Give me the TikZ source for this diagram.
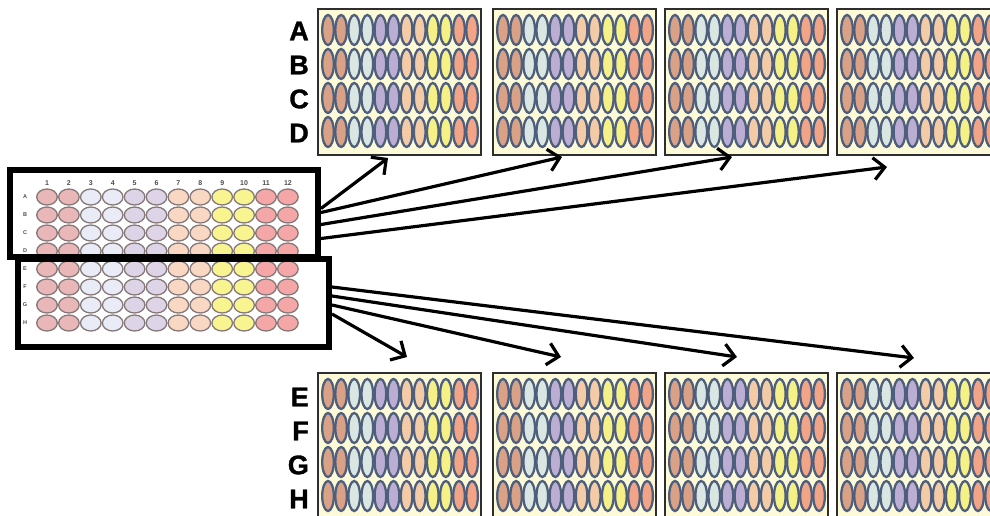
\documentclass[tikz,border=0pt]{standalone}
\usepackage{fontspec}
\setmainfont{Liberation Sans}[BoldFont={Liberation Sans Bold}]
\newfontfamily\labelfont{Liberation Sans Bold}[FakeBold=1.2]
\usetikzlibrary{arrows.meta,calc}

% well colours of the source plate (one per column pair)
\definecolor{sw1}{HTML}{E9B7B7}
\definecolor{sw2}{HTML}{E9ECF6}
\definecolor{sw3}{HTML}{DDD4E7}
\definecolor{sw4}{HTML}{F8D7C3}
\definecolor{sw5}{HTML}{F8F590}
\definecolor{sw6}{HTML}{F5A7A7}
\definecolor{swline}{HTML}{857878}
% well colours of the destination plates
\definecolor{dw1}{HTML}{D9A286}
\definecolor{dw2}{HTML}{DAE6E2}
\definecolor{dw3}{HTML}{BCAED3}
\definecolor{dw4}{HTML}{F3CBA6}
\definecolor{dw5}{HTML}{F5F187}
\definecolor{dw6}{HTML}{F2A487}
\definecolor{dwline}{HTML}{4E5F7E}
\definecolor{cream}{HTML}{FDFAD8}
\definecolor{plateframe}{HTML}{2E2E2E}

\tikzset{
  plate/.style={draw=plateframe, line width=1.8pt, fill=cream,
    minimum width=163pt, minimum height=146pt, inner sep=0pt, anchor=north west},
  selbox/.style={draw=black, line width=6pt, inner sep=0pt},
  rowlab/.style={font=\labelfont\fontsize{27}{27}\selectfont, inner sep=0pt, anchor=east},
  collab/.style={font=\bfseries\fontsize{7}{7}\selectfont, text=black!70, inner sep=0pt},
  smallrow/.style={font=\bfseries\fontsize{5.5}{5.5}\selectfont, text=black!70, inner sep=0pt},
  arr/.style={line width=3.2pt, -{Straight Barb[length=11pt,width=22pt]}},
  srcwell/.style={draw=swline, line width=1.3pt},
  dstwell/.style={draw=dwline, line width=2.3pt}
}

\begin{document}
\begin{tikzpicture}[x=1pt,y=-1pt]
\useasboundingbox (0,0) rectangle (990,516);
\clip (0,0) rectangle (990,516);
\fill[white] (0,0) rectangle (990,516);

% ---- source 96-well plate ----
\foreach \c in {1,...,12} {
  \node[collab] (col\c) at ({47+(\c-1)*21.9},183) {\c};
  \pgfmathtruncatemacro\g{(\c+1)/2}
  \foreach \r in {1,...,8} {
    \draw[srcwell, fill=sw\g] ({47+(\c-1)*21.9},{197+(\r-1)*18}) ellipse (10.3 and 8);
  }
}
\foreach \l [count=\r] in {A,B,C,D,E,F,G,H} {
  \node[smallrow] (srow\l) at (25,{197+(\r-1)*18}) {\l};
}

% ---- selection frames on the source plate ----
\node[selbox, minimum width=311pt, minimum height=88pt] (selB) at (173.5,303) {};
\node[selbox, minimum width=308pt, minimum height=87pt] (selA) at (164,213.5) {};

% ---- destination plates, rows A-D (top) and E-H (bottom) ----
\foreach \px/\nm in {317/tp1, 492/tp2, 664/tp3, 836/tp4} {
  \node[plate] (\nm) at (\px,8) {};
  \foreach \c in {1,...,12} {
    \pgfmathtruncatemacro\g{(\c+1)/2}
    \foreach \r in {1,...,4} {
      \draw[dstwell, fill=dw\g] ({\px+11+(\c-1)*13.1},{30+(\r-1)*34}) ellipse (5.8 and 15);
    }
  }
}
\foreach \px/\nm in {317/bp1, 492/bp2, 664/bp3, 836/bp4} {
  \node[plate] (\nm) at (\px,372) {};
  \foreach \c in {1,...,12} {
    \pgfmathtruncatemacro\g{(\c+1)/2}
    \foreach \r in {1,...,4} {
      \draw[dstwell, fill=dw\g] ({\px+11+(\c-1)*13.1},{394+(\r-1)*34}) ellipse (5.8 and 15);
    }
  }
}

% ---- row labels ----
\foreach \l/\y in {A/31, B/65, C/99, D/133, E/397, F/431, G/465, H/499} {
  \node[rowlab] (lab\l) at (309,\y) {\l};
}

% ---- arrow targets ----
\coordinate (ta1) at (388,158);
\coordinate (ta2) at (562,157);
\coordinate (ta3) at (732,157);
\coordinate (ta4) at (887,167);
\coordinate (tb1) at (407,357);
\coordinate (tb2) at (561,357);
\coordinate (tb3) at (737,357);
\coordinate (tb4) at (914,358);

% ---- transfer arrows ----
\draw[arr] ([yshift=5pt]selA.east) -- (ta1);
\draw[arr] ([yshift=1pt]selA.east) -- (ta2);
\draw[arr] ([yshift=-11pt]selA.east) -- (ta3);
\draw[arr] ([yshift=-25pt]selA.east) -- (ta4);
\draw[arr] ([yshift=-11pt]selB.east) -- (tb1);
\draw[arr] ([yshift=-2pt]selB.east) -- (tb2);
\draw[arr] ([yshift=7pt]selB.east) -- (tb3);
\draw[arr] ([yshift=16pt]selB.east) -- (tb4);
\end{tikzpicture}
\end{document}
